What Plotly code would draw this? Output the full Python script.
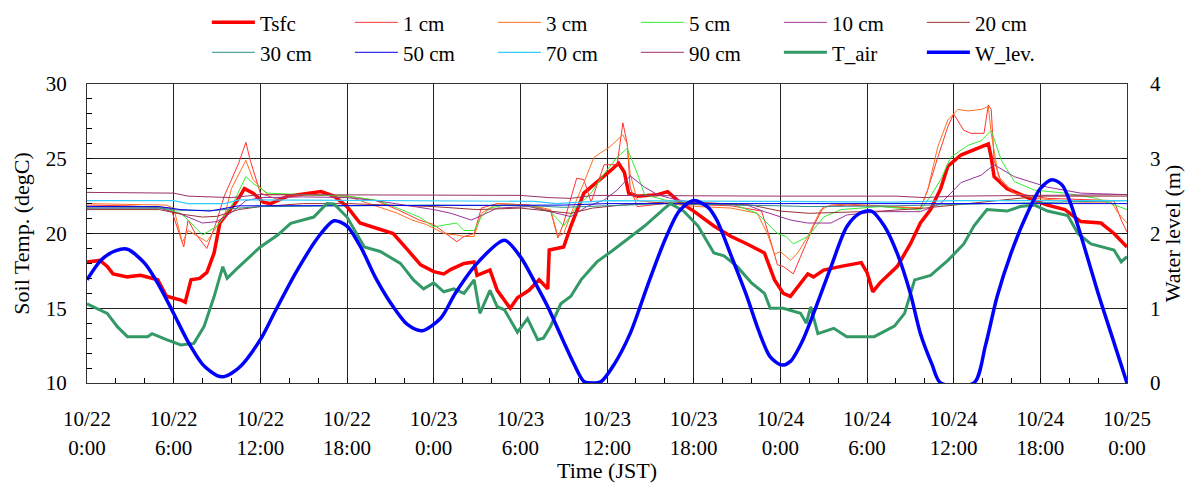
import plotly.graph_objects as go

# ---------------- data (hours since 10/22 0:00 JST) ----------------
tsfc_h = [0, 0.9, 1.4, 1.8, 2.8, 3.7, 4.9, 5.5, 6.5, 6.8, 7.2, 7.8, 8.3, 8.8, 9.2, 9.7, 10.4, 10.9, 11.5, 12.2, 12.7, 13.9, 15.2, 16.2, 17.1, 18, 18.9, 20.3, 21.2, 22.2, 23.1, 24, 24.7, 25.2, 26.1, 26.8, 27.0, 27.9, 28.4, 29.3, 29.8, 30.6, 31.3, 31.9, 32.0, 33.0, 33.5, 34.4, 35.3, 36.3, 36.8, 37.2, 37.5, 38.1, 39.5, 40.2, 40.9, 42, 43.4, 44.6, 45.7, 46.9, 47.6, 48.2, 48.7, 49.9, 50.3, 51.0, 52.2, 53.6, 54.0, 54.4, 54.9, 56.1, 57.0, 57.7, 58.4, 59.1, 59.6, 60.5, 61.9, 62.4, 62.6, 62.8, 63.7, 64.6, 65.6, 66.5, 67.7, 68.8, 70.2, 71.1, 72]
tsfc_v = [18.1, 18.2, 17.8, 17.3, 17.1, 17.2, 16.9, 15.8, 15.55, 15.4, 16.9, 17.0, 17.4, 18.7, 20.7, 21.35, 22.2, 23.0, 22.7, 22.1, 22.0, 22.5, 22.7, 22.8, 22.5, 21.8, 20.7, 20.3, 20.0, 18.9, 17.9, 17.45, 17.3, 17.6, 18.0, 18.1, 17.2, 17.55, 16.2, 15.0, 15.7, 16.2, 16.9, 16.3, 18.9, 19.1, 20.5, 22.7, 23.4, 24.25, 24.7, 24.1, 22.7, 22.5, 22.6, 22.8, 22.2, 21.5, 20.5, 19.8, 19.3, 18.7, 16.9, 16.0, 15.8, 17.3, 17.1, 17.55, 17.8, 18.05, 17.4, 16.1, 16.7, 17.8, 19.3, 20.7, 21.6, 23.0, 24.5, 25.25, 25.8, 26.0, 25.1, 23.8, 23.0, 22.6, 22.2, 21.9, 21.6, 20.8, 20.7, 20.0, 19.1]

cm1_h = [0, 3, 5.8, 6.2, 6.7, 7.0, 7.5, 8.3, 9.0, 9.5, 10.5, 11.0, 11.3, 12.0, 13.0, 15, 18, 20, 21.5, 23, 24, 24.7, 25.6, 26.1, 26.8, 27.3, 28.4, 30.6, 32.1, 32.6, 33.0, 33.9, 34.4, 34.9, 35.8, 36.7, 37.1, 37.4, 37.6, 38.1, 40, 44.6, 46.7, 47.3, 47.8, 48.2, 48.9, 49.4, 50.3, 51.0, 52.6, 57.7, 58.2, 58.9, 59.6, 60.0, 60.7, 61.2, 62.1, 62.4, 62.6, 62.8, 63.3, 64.2, 66.5, 71.1, 71.6, 72]
cm1_v = [21.9, 21.85, 21.7, 20.5, 19.1, 20.9, 20.0, 19.0, 20.9, 22.5, 24.7, 26.1, 24.9, 22.7, 22.35, 22.6, 22.5, 22.2, 21.6, 20.9, 20.6, 20.1, 19.45, 19.8, 20.0, 21.7, 22.0, 21.9, 21.5, 19.7, 20.7, 23.7, 23.6, 22.1, 24.6, 24.6, 27.4, 26.0, 23.1, 21.8, 22.0, 21.85, 21.5, 19.6, 17.9, 17.8, 17.3, 18.45, 20.5, 21.8, 21.9, 21.7, 22.9, 25.1, 27.15, 28.0, 26.9, 26.7, 26.7, 28.6, 28.3, 24.9, 23.4, 22.7, 22.35, 22.2, 20.9, 20.1]

cm3_h = [0, 5.5, 6.0, 6.3, 6.6, 7.0, 8.0, 8.3, 9.0, 9.5, 10.0, 11.0, 11.5, 12.5, 15, 18, 21.5, 22.5, 23.5, 24.7, 25.6, 26.1, 26.8, 27.3, 28.4, 30.6, 32.1, 32.6, 33.0, 33.7, 34.4, 35.1, 36.2, 37.1, 37.4, 37.6, 38.1, 40, 42.3, 44.6, 46.4, 47.1, 47.6, 48.0, 48.7, 49.2, 49.9, 50.8, 51.5, 52.6, 57.7, 58.2, 58.9, 59.6, 60.3, 61.0, 61.9, 62.4, 62.6, 63.1, 64.2, 65.6, 68.8, 70.9, 71.4, 72]
cm3_v = [22.0, 21.9, 21.7, 20.5, 19.4, 20.2, 19.6, 19.45, 20.5, 21.1, 23.0, 24.9, 23.6, 22.6, 22.6, 22.5, 21.35, 20.9, 20.6, 20.0, 19.9, 19.8, 19.8, 21.35, 22.0, 21.9, 21.6, 19.8, 20.0, 21.8, 23.4, 25.1, 25.8, 26.6, 26.0, 24.0, 22.2, 22.0, 21.8, 21.7, 21.35, 20.0, 18.6, 18.8, 18.2, 18.7, 19.8, 21.6, 21.9, 21.97, 21.7, 22.9, 25.8, 27.6, 28.3, 28.2, 28.3, 28.5, 26.7, 23.8, 22.7, 22.35, 22.1, 22.1, 21.35, 20.7]

cm5_h = [0, 5, 6.5, 7.0, 8.0, 9.0, 10.0, 11.0, 11.5, 12.5, 15, 18, 20, 21.5, 23, 24, 25.6, 26.1, 26.8, 27.3, 27.9, 28.9, 30.6, 32.1, 33.0, 33.9, 34.9, 35.8, 36.7, 37.4, 38.1, 38.6, 40, 42, 44.6, 46.4, 47.8, 48.4, 48.9, 49.9, 51.0, 52.2, 54.9, 57.7, 58.4, 59.1, 59.8, 61.0, 61.9, 62.6, 63.3, 64.2, 65.6, 67.7, 69.9, 72]
cm5_v = [21.8, 21.75, 21.35, 20.9, 19.9, 20.5, 21.8, 23.8, 23.35, 22.7, 22.6, 22.5, 22.24, 21.7, 21.1, 20.45, 20.7, 20.2, 20.2, 21.1, 21.7, 21.9, 21.85, 21.45, 20.5, 21.8, 22.7, 24.0, 25.1, 25.7, 24.0, 22.6, 22.24, 22.0, 22.0, 21.35, 20.0, 19.8, 19.3, 19.8, 21.1, 21.6, 21.8, 21.57, 22.5, 23.6, 25.1, 25.9, 26.2, 26.9, 24.9, 23.47, 22.9, 22.7, 22.35, 21.6]

cm10_h = [0, 5, 6.5, 8, 9, 10, 11, 12, 15, 18, 20, 22, 24, 25.2, 26.6, 27.3, 28.4, 30.6, 32.1, 33.5, 34.6, 35.8, 36.7, 37.6, 38.6, 39.5, 40.4, 42.3, 45.7, 46.9, 48.7, 49.9, 51.5, 52.6, 54.9, 57.7, 59.1, 60.5, 61.9, 62.8, 64.2, 66.5, 68.8, 72]
cm10_v = [21.7, 21.7, 21.3, 20.7, 20.8, 21.4, 22.2, 22.4, 22.45, 22.4, 22.2, 21.9, 21.6, 21.35, 20.9, 21.2, 21.7, 21.8, 21.46, 21.13, 21.8, 22.24, 22.9, 23.85, 23.1, 22.6, 22.35, 22.0, 21.9, 21.46, 20.9, 20.7, 20.7, 21.24, 21.46, 21.46, 22.0, 23.4, 23.9, 24.6, 23.8, 23.1, 22.7, 22.6]

cm20_h = [0, 5, 6.5, 8, 9, 10.5, 12, 15, 18, 21, 24, 27, 30, 32, 33.5, 35, 37, 40, 42, 46, 48, 50, 52, 55, 58, 61, 64, 66, 69, 72]
cm20_v = [21.6, 21.6, 21.3, 21.1, 21.15, 21.6, 21.8, 22.0, 22.0, 21.9, 21.8, 21.6, 21.7, 21.5, 21.35, 21.7, 21.9, 22.1, 22.1, 21.9, 21.5, 21.35, 21.4, 21.5, 21.7, 22.0, 22.3, 22.5, 22.5, 22.5]

cm30_h = [0, 5, 6.5, 9, 10.5, 12, 24, 31, 33, 36, 40, 48, 50, 56, 60, 66, 72]
cm30_v = [21.7, 21.7, 21.55, 21.55, 21.7, 21.8, 21.9, 21.85, 21.75, 21.85, 22.0, 21.85, 21.8, 21.85, 21.95, 22.1, 22.2]

cm50_h = [0, 5, 6.5, 8.5, 10.5, 24, 33, 36, 48, 60, 72]
cm50_v = [21.8, 21.8, 21.6, 21.5, 21.85, 21.9, 21.9, 22.0, 22.0, 22.0, 22.0]

cm70_h = [0, 6, 7, 9.5, 10.5, 24, 31, 32.5, 34, 36, 48, 56, 58, 60, 72]
cm70_v = [22.2, 22.2, 22.0, 22.0, 22.25, 22.2, 22.15, 22.0, 22.1, 22.2, 22.15, 22.1, 22.15, 22.2, 22.2]

cm90_h = [0, 6, 7, 10, 12, 20, 24, 30, 32, 33.5, 35, 44, 48, 56, 58, 60, 72]
cm90_v = [22.75, 22.7, 22.5, 22.4, 22.6, 22.6, 22.55, 22.55, 22.4, 22.35, 22.55, 22.5, 22.5, 22.5, 22.4, 22.5, 22.6]

tair_h = [0, 0.9, 1.4, 2.1, 2.8, 4.2, 4.5, 5.5, 6.5, 7.4, 8.1, 8.8, 9.4, 9.7, 10.4, 12, 13.2, 14.1, 15.7, 16.6, 17.1, 18, 19.2, 20.3, 21.7, 22.6, 23.3, 24, 24.7, 25.4, 26.1, 26.8, 27.2, 27.9, 28.4, 28.9, 29.8, 30.5, 31.2, 31.6, 32.1, 32.8, 33.5, 34.2, 35.3, 36.3, 37.4, 38.6, 40, 40.4, 41.3, 42.3, 43.4, 44.1, 45, 46, 46.9, 47.3, 48.2, 49.4, 49.8, 50.1, 50.6, 51.7, 52.6, 54.5, 55.9, 56.6, 57.3, 58.4, 59.6, 60.7, 61.4, 62.3, 63.7, 64.6, 65.6, 66.5, 67.9, 68.6, 69.5, 71.1, 71.6, 72]
tair_v = [15.3, 14.9, 14.66, 13.77, 13.1, 13.1, 13.3, 12.9, 12.54, 12.65, 13.77, 15.78, 17.78, 17.0, 17.67, 19.1, 19.9, 20.68, 21.1, 22.0, 21.97, 21.1, 19.1, 18.8, 18.0, 16.9, 16.3, 16.7, 16.1, 16.3, 16.0, 16.9, 14.66, 16.2, 15.1, 14.9, 13.4, 14.3, 12.9, 13.0, 13.8, 15.3, 15.8, 16.9, 18.1, 18.8, 19.6, 20.5, 21.7, 22.0, 21.5, 20.5, 18.7, 18.5, 17.8, 16.7, 16.0, 15.0, 15.0, 14.66, 14.0, 15.1, 13.3, 13.66, 13.1, 13.1, 13.8, 14.66, 16.9, 17.2, 18.2, 19.3, 20.5, 21.6, 21.5, 21.8, 21.9, 21.5, 21.2, 20.0, 19.3, 18.9, 18.1, 18.45]

wlev_h = [0, 1, 2, 2.8, 4, 5, 6, 7, 8, 9, 9.5, 10.5, 12, 13, 14.5, 16, 17.1, 18, 19, 20, 21.2, 22.2, 23.2, 24.5, 25.5, 27, 28.9, 30, 31, 31.9, 33, 33.7, 34.4, 35, 35.6, 36.5, 37.6, 38.8, 40, 41, 42, 43, 43.6, 44.6, 45.7, 46.5, 47.3, 48.1, 48.7, 49.5, 50.3, 51.5, 52.6, 53.5, 54.3, 55.2, 56.1, 57, 57.7, 58.5, 59.1, 61.4, 62.2, 63, 64, 65.1, 66, 66.8, 67.5, 68.1, 69, 70, 71, 72]
wlev_v = [1.38, 1.65, 1.77, 1.79, 1.6, 1.3, 0.93, 0.55, 0.25, 0.1, 0.085, 0.2, 0.58, 0.95, 1.49, 1.95, 2.17, 2.1, 1.8, 1.4, 1.02, 0.78, 0.70, 0.87, 1.2, 1.6, 1.91, 1.69, 1.35, 1.02, 0.55, 0.26, 0.02, 0.0, 0.02, 0.25, 0.66, 1.3, 1.91, 2.3, 2.44, 2.35, 2.18, 1.7, 1.15, 0.7, 0.35, 0.24, 0.29, 0.55, 0.93, 1.55, 2.09, 2.27, 2.30, 2.1, 1.73, 1.2, 0.66, 0.25, 0.0, 0.0, 0.5, 1.15, 1.75, 2.27, 2.6, 2.72, 2.65, 2.40, 1.85, 1.2, 0.6, 0.0]

tick_hours = [0, 6, 12, 18, 24, 30, 36, 42, 48, 54, 60, 66, 72]
tick_dates = ["10/22", "10/22", "10/22", "10/22", "10/23", "10/23", "10/23", "10/23", "10/24", "10/24", "10/24", "10/24", "10/25"]
tick_times = ["0:00", "6:00", "12:00", "18:00", "0:00", "6:00", "12:00", "18:00", "0:00", "6:00", "12:00", "18:00", "0:00"]

# ---------------- figure ----------------
FONT = "Liberation Serif"
TICK_SIZE = 21
TITLE_SIZE = 22
LEG_SIZE = 21
fig = go.Figure()

series = [
    ("Tsfc", tsfc_h, tsfc_v, "#ff0000", 3.5, "legend", "y"),
    ("1 cm", cm1_h, cm1_v, "#ff3333", 1, "legend", "y"),
    ("3 cm", cm3_h, cm3_v, "#ff7020", 1, "legend", "y"),
    ("5 cm", cm5_h, cm5_v, "#33ee33", 1, "legend", "y"),
    ("10 cm", cm10_h, cm10_v, "#993399", 1, "legend", "y"),
    ("20 cm", cm20_h, cm20_v, "#993333", 1, "legend", "y"),
    ("30 cm", cm30_h, cm30_v, "#2e8b8b", 1, "legend2", "y"),
    ("50 cm", cm50_h, cm50_v, "#0000ee", 1, "legend2", "y"),
    ("70 cm", cm70_h, cm70_v, "#33ccff", 1.2, "legend2", "y"),
    ("90 cm", cm90_h, cm90_v, "#993366", 1, "legend2", "y"),
    ("T_air", tair_h, tair_v, "#339966", 3, "legend2", "y"),
    ("W_lev.", wlev_h, wlev_v, "#0000ff", 3.5, "legend2", "y2"),
]
for name, xs, ys, col, w, leg, ax in series:
    fig.add_trace(go.Scatter(
        x=xs, y=ys, name=name, mode="lines", yaxis=ax, legend=leg,
        line=dict(color=col, width=w, shape="spline" if name == "W_lev." else "linear", smoothing=0.8),
    ))

# carrier for the second row of time-axis labels (draws nothing)
fig.add_trace(go.Scatter(x=tick_hours, y=[None] * len(tick_hours), xaxis="x3", yaxis="y",
                         mode="lines", showlegend=False, hoverinfo="skip"))

tickfont = dict(family=FONT, size=TICK_SIZE, color="black")
legfont = dict(family=FONT, size=LEG_SIZE, color="black")
titlefont = dict(family=FONT, size=TITLE_SIZE, color="black")
fig.update_layout(
    width=1189, height=483,
    margin=dict(l=87, r=62, t=84, b=100, autoexpand=False),
    paper_bgcolor="white", plot_bgcolor="white",
    font=dict(family=FONT, size=TICK_SIZE, color="black"),
    showlegend=True,
    legend=dict(orientation="h", xref="container", yref="container", x=0.174, y=0.953,
                xanchor="left", yanchor="middle", entrywidth=85, entrywidthmode="pixels",
                itemwidth=43, font=legfont, bgcolor="rgba(0,0,0,0)", tracegroupgap=0),
    legend2=dict(orientation="h", xref="container", yref="container", x=0.174, y=0.891,
                 xanchor="left", yanchor="middle", entrywidth=85, entrywidthmode="pixels",
                 itemwidth=43, font=legfont, bgcolor="rgba(0,0,0,0)", tracegroupgap=0),
    xaxis=dict(range=[0, 72], tickmode="array", tickvals=tick_hours, ticktext=tick_dates,
               ticks="inside", ticklen=5, tickcolor="black", tickfont=tickfont,
               ticklabelstandoff=17,
               showgrid=True, gridcolor="#222222", gridwidth=1,
               showline=True, linecolor="#333333", linewidth=1, mirror=True, zeroline=False,
               minor=dict(tickmode="linear", tick0=0, dtick=2, ticks="inside", ticklen=5,
                          tickcolor="black", showgrid=False)),
    xaxis3=dict(range=[0, 72], overlaying="x", anchor="y", side="bottom",
                tickmode="array", tickvals=tick_hours, ticktext=tick_times,
                ticks="", tickfont=tickfont, ticklabelstandoff=50,
                showgrid=False, showline=False, zeroline=False,
                title=dict(text="Time (JST)", font=titlefont, standoff=0)),
    yaxis=dict(range=[10, 30], tickmode="linear", tick0=10, dtick=5,
               ticks="inside", ticklen=5, tickcolor="black", tickfont=tickfont,
               ticklabelstandoff=15,
               showgrid=True, gridcolor="#222222", gridwidth=1,
               showline=True, linecolor="#333333", linewidth=1, mirror=True, zeroline=False,
               title=dict(text="Soil Temp. (degC)", font=titlefont, standoff=10),
               minor=dict(tickmode="linear", tick0=10, dtick=1, ticks="inside", ticklen=5,
                          tickcolor="black", showgrid=False)),
    yaxis2=dict(range=[0, 4], overlaying="y", side="right", tickmode="linear", tick0=0, dtick=1,
                ticks="inside", ticklen=5, tickcolor="black", tickfont=tickfont,
                ticklabelstandoff=22, showgrid=False, zeroline=False, showline=False,
                title=dict(text="Water level (m)", font=titlefont, standoff=4)),
)

fig.write_html("out.html")
